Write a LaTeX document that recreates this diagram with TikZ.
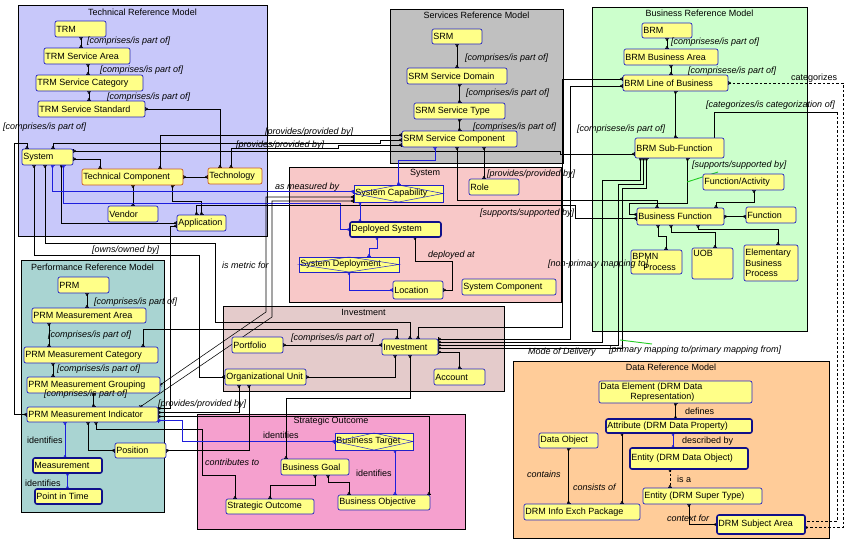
\documentclass[tikz,border=0pt]{standalone}
\usepackage{fontspec}
\setmainfont{Liberation Sans}
\usetikzlibrary{arrows.meta}
\pgfdeclarelayer{bg}
\pgfsetlayers{bg,main}
\definecolor{trmbg}{HTML}{C8C8FA}
\definecolor{srmbg}{HTML}{C0C0C0}
\definecolor{brmbg}{HTML}{CCFFCC}
\definecolor{sysbg}{HTML}{F8C8C8}
\definecolor{prmbg}{HTML}{A9D4D2}
\definecolor{invbg}{HTML}{E4CBCB}
\definecolor{sobg}{HTML}{F5A0CE}
\definecolor{drmbg}{HTML}{FFCC99}
\definecolor{entfill}{HTML}{FFFF88}
\definecolor{entline}{HTML}{2222C8}
\definecolor{entdark}{HTML}{10108A}
\definecolor{tcline}{HTML}{C85A28}
\definecolor{relblue}{HTML}{1E1EDC}
\definecolor{selgreen}{HTML}{22CC22}
\newcommand{\dfont}{\fontsize{9}{10.5}\selectfont}
% entity box: [options]{name}{x1}{y1}{x2}{y2}{text}
\newcommand{\entity}[7][]{%
  \node[ent,minimum width={#5pt-#3pt},minimum height={#6pt-#4pt},
    label={[enttxt]west:{#7}},#1] (#2) at (#3,#4) {};}

\begin{document}
\begin{tikzpicture}[x=1pt,y=-1pt,
    regbox/.style={draw=black,line width=0.6pt},
    regtitle/.style={font=\dfont,inner sep=0pt},
    ent/.style={draw=entline,fill=entfill,rounded corners=2pt,line width=0.7pt,inner sep=0pt,outer sep=0pt,anchor=north west},
    entthick/.style={draw=entdark,line width=1.6pt},
    enttc/.style={draw=tcline},
    assoc/.style={rounded corners=0pt},
    enttxt/.style={font=\dfont,anchor=west,inner xsep=1.2pt,inner ysep=0pt,align=left},
    diam/.style={draw=entline,line width=0.5pt},
    rel/.style={draw=black,line width=0.55pt,{Bar[width=4pt] Circle[open,length=2.4pt,width=2.4pt]}-{Circle[open,length=2.4pt,width=2.4pt] Bar[width=4pt]}},
    relb/.style={rel,draw=relblue},
    reld/.style={rel,dash pattern=on 2.5pt off 2pt},
    selg/.style={draw=selgreen,line width=0.9pt},
    rl/.style={font=\dfont\itshape,anchor=west,inner sep=0pt},
    rlu/.style={font=\dfont,anchor=west,inner sep=0pt}
]
\useasboundingbox (0,0) rectangle (848,542);

% Regions
\begin{pgfonlayer}{bg}
\fill[white] (0,0) rectangle (848,542);
\draw[regbox,fill=trmbg] (18,5) rectangle (267,236);
\draw[regbox,fill=srmbg] (390,9) rectangle (563,163);
\draw[regbox,fill=brmbg] (592,7) rectangle (807,331);
\draw[regbox,fill=sysbg] (289,167) rectangle (561,302);
\draw[regbox,fill=prmbg] (21,260) rectangle (164,512);
\draw[regbox,fill=invbg] (223,306) rectangle (504,391);
\draw[regbox,fill=sobg] (197,414) rectangle (465,529);
\draw[regbox,fill=drmbg] (513,361) rectangle (829,538);
\end{pgfonlayer}
\node[regtitle] (trmt) at (142.5,12) {Technical Reference Model};
\node[regtitle] (srmt) at (476.5,15.5) {Services Reference Model};
\node[regtitle] (brmt) at (699.5,13.5) {Business Reference Model};
\node[regtitle] (syst) at (425,173.5) {System};
\node[regtitle] (prmt) at (92.5,267) {Performance Reference Model};
\node[regtitle] (invt) at (363.5,312.5) {Investment};
\node[regtitle] (sot) at (331,421) {Strategic Outcome};
\node[regtitle] (drmt) at (671,367.5) {Data Reference Model};

% Technical Reference Model
\entity{trm}{55}{21}{106}{37}{TRM}
\entity{trmarea}{44}{48}{130}{64}{TRM Service Area}
\entity{trmcat}{36}{75}{143}{91}{TRM Service Category}
\entity{trmstd}{38}{101}{145}{117}{TRM Service Standard}
\entity{system}{22}{149}{73}{165}{System}
\entity[enttc]{techcomp}{82}{169}{183}{185}{Technical Component}
\entity[enttc]{techno}{208}{168}{262}{184}{Technology}
\entity{vendor}{108}{206}{158}{222}{Vendor}
\entity{app}{177}{215}{226}{231}{Application}

% Services Reference Model
\entity{srm}{432}{29}{482}{44}{SRM}
\entity{srmdom}{407}{68}{507}{84}{SRM Service Domain}
\entity{srmtype}{414}{103}{505}{119}{SRM Service Type}
\entity{srmsc}{402}{131}{517}{147}{SRM Service Component}
\entity{role}{469}{179}{519}{195}{Role}

% System
\entity[assoc]{syscap}{354}{185}{443}{202}{System Capability}
\entity[entthick]{depsys}{350}{222}{441}{237}{Deployed System}
\entity[assoc]{sysdep}{299}{257}{399}{272}{System Deployment}
\entity{loc}{393}{281}{443}{299}{Location}
\entity{syscomp}{462}{279}{556}{295}{System Component}

% Business Reference Model
\entity{brm}{642}{23}{692}{38}{BRM}
\entity{brmarea}{624}{49}{718}{65}{BRM Business Area}
\entity{brmlob}{623}{75}{728}{91}{BRM Line of Business}
\entity{brmsub}{635}{138}{724}{158}{BRM Sub-Function}
\entity{funcact}{703}{174}{784}{190}{Function/Activity}
\entity{busfunc}{637}{208}{724}{225}{Business Function}
\entity{func}{746}{207}{796}{223}{Function}
\entity{bpmn}{631}{250}{682}{274}{BPMN\\\hspace*{11pt}Process}
\entity{uob}{692}{248}{733}{279}{UOB\\~\\~}
\entity{ebp}{744}{245}{798}{281}{Elementary\\Business\\Process}

% Performance Reference Model
\entity{prm}{58}{277}{109}{293}{PRM}
\entity{prmarea}{32}{308}{146}{323}{PRM Measurement Area}
\entity{prmcat}{24}{347}{158}{363}{PRM Measurement Category}
\entity{prmgrp}{27}{377}{160}{393}{PRM Measurement Grouping}
\entity{prmind}{27}{407}{158}{422}{PRM Measurement Indicator}
\entity[entthick]{meas}{33}{458}{102}{473}{Measurement}
\entity[entthick]{pit}{35}{489}{102}{504}{Point in Time}
\entity{pos}{115}{443}{166}{458}{Position}

% Investment
\entity{portf}{232}{337}{283}{353}{Portfolio}
\entity{inv}{382}{339}{438}{355}{Investment}
\entity{orgu}{225}{369}{306}{385}{Organizational Unit}
\entity{acct}{434}{369}{485}{385}{Account}

% Strategic Outcome
\entity[assoc]{bustgt}{335}{433}{413}{450}{Business Target}
\entity{busgoal}{281}{459}{349}{475}{Business Goal}
\entity{busobj}{338}{495}{430}{510}{Business Objective}
\entity{stratout}{226}{499}{314}{514}{Strategic Outcome}

% Data Reference Model
\entity{dataelem}{599}{381}{752}{403}{Data Element (DRM Data\\\hspace*{30pt}Representation)}
\entity[entthick]{attr}{606}{419}{752}{433}{Attribute (DRM Data Property)}
\entity[entthick]{entobj}{630}{448}{748}{469}{Entity (DRM Data Object)}
\entity{entsup}{643}{488}{762}{504}{Entity (DRM Super Type)}
\entity[entthick]{drmsubj}{717}{515}{805}{534}{DRM Subject Area}
\entity{dataobj}{539}{433}{598}{448}{Data Object}
\entity{drmpkg}{524}{504}{640}{520}{DRM Info Exch Package}

\foreach \n in {syscap,sysdep,bustgt}
  \draw[diam] (\n.west) -- (\n.north) -- (\n.east) -- (\n.south) -- cycle;

% x positions of vertical links
\coordinate (xtrm) at (81,0);
\coordinate (xarea) at (88,0);
\coordinate (xcat) at (89,0);
\coordinate (xrole) at (484,0);
\coordinate (xprm) at (87,0);
\coordinate (xpma) at (49,0);
\coordinate (xpmc) at (53,0);
\coordinate (xmeas) at (65,0);
\coordinate (xtgt) at (395,0);
\coordinate (xattr) at (673,0);
\coordinate (xent) at (670,0);
\coordinate (xpkg) at (622,0);
\coordinate (xcap) at (360,0);

\begin{pgfonlayer}{bg}
% TRM links
\draw[rel] (trm.south -| xtrm) -- (trmarea.north -| xtrm);
\draw[rel] (trmarea.south -| xarea) -- (trmcat.north -| xarea);
\draw[rel] (trmcat.south -| xcat) -- (trmstd.north -| xcat);
\draw[rel] (trmstd.east) -| ([xshift=-15pt]techno.north);
\draw[rel] ([yshift=-2pt]system.east) -| ([xshift=-32.5pt]techcomp.north);
\draw[rel] (techcomp.east) -- (techcomp.east -| techno.west);
\draw[rel] (vendor.north) -- (vendor.north |- techcomp.south);
\draw[rel] ([xshift=40pt]techcomp.south) -- ++(0,16) -| (app.north);
\draw[rel] ([xshift=14pt]system.south) |- (app.west);
\draw[relb] ([xshift=5pt]system.south) |- ([yshift=2pt]syscap.west);
\draw[relb] ([xshift=16pt]system.south) |- (340,203) |- (depsys.west);
\draw[rel] ([xshift=-13.5pt]system.south) |- (199,255) |- (orgu.west);
\draw[rel] ([xshift=-2.5pt]system.south) |- (215,243) -- (215,322) -| (inv.north);
\draw[rel] (prmind.west) -| (14,143) -| ([xshift=-20.5pt]system.north);
\draw[rel] ([xshift=5.5pt]system.north) |- (380,143) |- ([yshift=-1pt]srmsc.west);
\draw[rel] ([yshift=6pt]system.east) -- (560,151) |- ([yshift=-6pt]brmsub.west);
\draw[rel] ([xshift=27.5pt]techcomp.north) |- ([yshift=4pt]srmsc.west);
\draw[rel] ([xshift=-4pt]techno.north) |- (338,148) |- ([yshift=-6pt]srmsc.west);
\draw[rel] ([yshift=-3pt]app.west) -- (170,226) |- ([yshift=6pt]prmind.east);
\draw[rel] ([xshift=-5pt]app.north) |- (575,205) |- ([yshift=-2pt]busfunc.west);

% SRM and System links
\draw[rel] (srm.south) -- (srm.south |- srmdom.north);
\draw[rel] (srmtype.north) -- (srmtype.north |- srmdom.south);
\draw[rel] (srmtype.south) -- (srmtype.south |- srmsc.north);
\draw[relb] ([xshift=-24.5pt]srmsc.south) -- ++(0,13) -| (syscap.north);
\draw[rel] (srmsc.south -| xrole) -- (role.north -| xrole);
\draw[rel] ([xshift=-2.5pt]srmsc.south) |- (657,200) -- ([xshift=-23.5pt]busfunc.north);
\draw[relb] (syscap.south -| xcap) -- (depsys.north -| xcap);
\draw[relb] ([xshift=-18.5pt]depsys.south) -- ++(0,11) -| ([xshift=20pt]sysdep.north);
\draw[relb] (sysdep.south) |- (loc.west);
\draw[rel] ([xshift=19.5pt]depsys.south) -- (415,261) -| (452,290) -- (loc.east);
\draw[rel] (prmgrp.east) -- (266,312) |- ([yshift=-3.5pt]syscap.west);
\draw[rel] ([xshift=47.5pt]prmind.north) -- (272,317) |- ([yshift=-7.5pt]syscap.west);

% BRM links
\draw[rel] (brm.south) -- (brm.south |- brmarea.north);
\draw[rel] (brmarea.south) -- (brmarea.south |- brmlob.north);
\draw[rel] (brmlob.south) -- (brmlob.south |- brmsub.north);
\draw[rel] ([xshift=10.5pt]funcact.south) -- ++(0,12) -| ([xshift=35.5pt]busfunc.north);
\draw[rel] (busfunc.east) -- (busfunc.east -| func.west);
\draw[rel] ([xshift=8pt]brmsub.south) |- (629,203) |- ([yshift=2pt]busfunc.west);
\draw[rel] ([xshift=-22.5pt]busfunc.south) -- (658,236) -| ([xshift=9.5pt]bpmn.north);
\draw[rel] ([xshift=-9.5pt]busfunc.south) -- (671,232) -| ([xshift=2.5pt]uob.north);
\draw[rel] ([xshift=17.5pt]busfunc.south) -- (698,229) -| ([xshift=7pt]ebp.north);
\draw[rel] ([yshift=8pt]inv.east) -- (570,339) |- ([yshift=-3pt]brmlob.west);
\draw[rel] ([xshift=8pt]inv.north) -- ++(0,-12) -| (562,79) -- ([yshift=4pt]brmlob.west);
\draw[rel] ([yshift=5pt]inv.east) -| (602,180) -| ([xshift=-39pt]brmsub.south);
\draw[rel] ([yshift=2pt]inv.east) -| (618,184) -| ([xshift=-36pt]brmsub.south);
\draw[rel] ([yshift=-1pt]inv.east) -| (622,188) -| ([xshift=-33pt]brmsub.south);
\draw[reld] (brmlob.east) -- (843,83) |- ([yshift=-3pt]drmsubj.east);
\draw[rel,-] ([xshift=34.5pt]brmsub.north) |- (837,112) coordinate (catc);
\draw[reld,{Bar[width=0pt]}-] (catc) |- ([yshift=3pt]drmsubj.east);
\draw[selg] (687,182) -- (718,172);
\draw[selg] (620,340) -- (652,344);

% PRM and Investment links
\draw[rel] (prm.south -| xprm) -- (prmarea.north -| xprm);
\draw[rel] (prmarea.south -| xpma) -- (prmcat.north -| xpma);
\draw[rel] ([xshift=52pt]prmcat.north) -- (143,329) -| ([xshift=-13pt]inv.north);
\draw[rel] (prmcat.south -| xpmc) -- (prmgrp.north -| xpmc);
\draw[rel] (prmgrp.south) -- (prmgrp.south |- prmind.north);
\draw[relb] (prmind.south -| xmeas) -- (meas.north -| xmeas);
\draw[relb] (meas.south) -- (meas.south |- pit.north);
\draw[rel] ([xshift=-4.5pt]prmind.south) |- (pos.west);
\draw[rel] ([xshift=3.5pt]prmind.south) |- (202,429) -- (202,475) -| ([xshift=-35pt]stratout.north);
\draw[relb] ([yshift=-6pt]prmind.east) -- (182,420.5) |- (bustgt.west);
\draw[rel] (pos.east) -| ([xshift=-16.5pt]orgu.south);
\draw[rel] ([xshift=-26.5pt]orgu.south) |- ([yshift=2pt]prmind.east);
\draw[rel] ([xshift=45pt]busobj.north) |- ([yshift=-2pt]prmind.east);
\draw[rel] ([xshift=-29pt]busgoal.north) -- (286,398) -| (inv.south);
\draw[rel] ([xshift=-15pt]inv.south) |- (orgu.east);
\draw[rel] ([yshift=-5pt]inv.east) -| (acct.north);
\draw[rel] (portf.east) -- (portf.east -| inv.west);

% Strategic Outcome links
\draw[relb] (bustgt.south -| xtgt) -- (busobj.north -| xtgt);
\draw[rel] (busgoal.south) -- (315,485) -| (stratout.north);
\draw[rel] ([xshift=13pt]busgoal.south) -- (328,482) -| ([xshift=-35pt]busobj.north);

% DRM links
\draw[rel] (dataelem.south) -- (dataelem.south |- attr.north);
\draw[relb] (attr.south -| xattr) -- (entobj.north -| xattr);
\draw[reld] (entobj.south -| xent) -- (entsup.north -| xent);
\draw[rel] ([xshift=-13.5pt]entsup.south) |- (drmsubj.west);
\draw[rel] (dataobj.south) -- (dataobj.south |- drmpkg.north);
\draw[rel] (attr.south -| xpkg) -- (drmpkg.north -| xpkg);
\end{pgfonlayer}

% Relationship labels
\foreach \x/\y/\t [count=\i] in {
    87/41/{[comprises/is part of]}, 100/70/{[comprises/is part of]},
    107/97/{[comprises/is part of]}, 3/127/{[comprises/is part of]},
    265/132/{[provides/provided by]}, 236/145/{[provides/provided by]},
    465/58/{[comprises/is part of]}, 466/93/{[comprises/is part of]},
    473/127/{[comprises/is part of]}, 487/174/{[provides/provided by]},
    275/187/{as measured by}, 428/255/{deployed at},
    480/213/{[supports/supported by]}, 548/264/{[non-primary mapping to]},
    671/42/{[comprisese/is part of]}, 688/71/{[comprisese/is part of]},
    706/105/{[categorizes/is categorization of]}, 577/129/{[comprisese/is part of]},
    692/165/{[supports/supported by]}, 528/352/{Mode of Delivery},
    609/350/{[primary mapping to/primary mapping from]},
    94/302/{[comprises/is part of]}, 48/335/{[comprises/is part of]},
    57/369/{[comprises/is part of]}, 44/394/{[comprises/is part of]},
    92/250/{[owns/owned by]}, 222/265/{is metric for},
    158/404/{[provides/provided by]}, 291/338/{[comprises/is part of]},
    205/462/{contributes to}, 667/518/{context for},
    527/474/{contains}, 573/487/{consists of}}
  \node[rl] (ri\i) at (\x,\y) {\t};
\foreach \x/\y/\t [count=\i] in {
    791/78/categorizes, 27/440/identifies, 25/483/identifies,
    263/435/identifies, 356/473/identifies, 685/411/defines,
    682/441/described by, 677/479/is a}
  \node[rlu] (ru\i) at (\x,\y) {\t};
\end{tikzpicture}
\end{document}
